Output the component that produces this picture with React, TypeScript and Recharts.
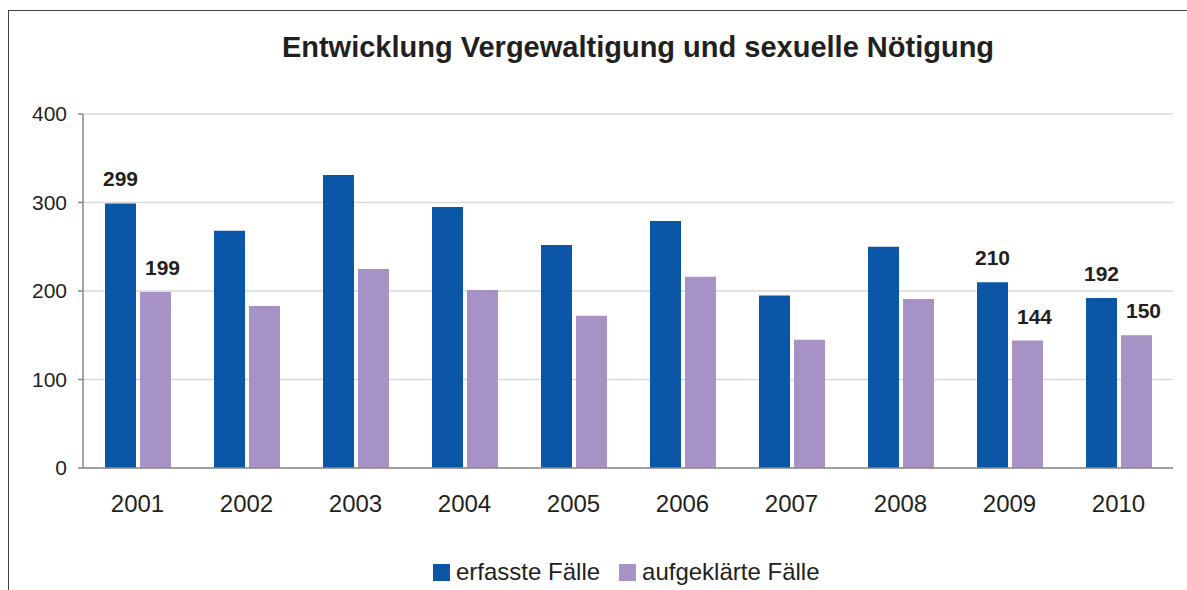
import * as React from "react"
import { BarChart, Bar, XAxis, YAxis, CartesianGrid, Legend, LabelList } from "recharts"

const years = ["2001", "2002", "2003", "2004", "2005", "2006", "2007", "2008", "2009", "2010"]
const erfasst = [299, 268, 331, 295, 252, 279, 195, 250, 210, 192]
const aufgeklaert = [199, 183, 225, 201, 172, 216, 145, 191, 144, 150]
const labelledYears = ["2001", "2009", "2010"]
const yTicks = [0, 100, 200, 300, 400]
const edgeTicks = [0, 1, 2, 3, 4, 5, 6, 7, 8, 9, 10]

const BLUE = "#0c56a8"
const PURPLE = "#a692c5"
const TEXT = "#231f20"
const FONT = "'Liberation Sans', Arial, sans-serif"

const data = years.map((year, i) => ({
  year,
  erfasst: erfasst[i],
  aufgeklaert: aufgeklaert[i],
  erfasstLabel: labelledYears.includes(year) ? erfasst[i] : null,
  aufgeklaertLabel: labelledYears.includes(year) ? aufgeklaert[i] : null,
}))

const makeLabel = (dx: number) => (props: any) => {
  if (props.value == null) return null
  const vb = props.viewBox ?? props
  return (
    <text
      x={vb.x + vb.width / 2 + dx}
      y={vb.y - 17}
      textAnchor="middle"
      fontFamily={FONT}
      fontWeight="bold"
      fontSize={21}
      fill={TEXT}
    >
      {props.value}
    </text>
  )
}

function LegendContent() {
  const items = [
    { label: "erfasste Fälle", color: BLUE },
    { label: "aufgeklärte Fälle", color: PURPLE },
  ]
  return (
    <div style={{ display: "flex", alignItems: "center", height: 24, paddingLeft: 433, fontFamily: FONT, fontSize: 24, color: TEXT }}>
      {items.map((it) => (
        <div key={it.label} style={{ display: "flex", alignItems: "center", marginRight: 19 }}>
          <span style={{ width: 17, height: 17, background: it.color, marginRight: 6, display: "inline-block" }} />
          <span style={{ lineHeight: "24px" }}>{it.label}</span>
        </div>
      ))}
    </div>
  )
}

export default function App() {
  return (
    <div style={{ position: "absolute", left: 0, top: 0, width: 1187, height: 590, background: "#fff", overflow: "hidden" }}>
      <div style={{ position: "absolute", left: 8, top: 10, width: 1300, height: 700, borderLeft: "1px solid #444", borderTop: "1px solid #444" }} />
      <div
        style={{
          position: "absolute",
          left: 0,
          width: 1276,
          top: 33,
          textAlign: "center",
          fontFamily: FONT,
          fontWeight: "bold",
          fontSize: 29,
          lineHeight: 1,
          color: TEXT,
          whiteSpace: "nowrap",
        }}
      >
        Entwicklung Vergewaltigung und sexuelle Nötigung
      </div>
      <BarChart
        width={1187}
        height={590}
        data={data}
        margin={{ top: 114, right: 14, left: 0, bottom: 6 }}
        barSize={31}
        barGap={4}
        style={{ position: "absolute", left: 0, top: 0 }}
      >
        <CartesianGrid vertical={false} stroke="#d9d9d9" strokeWidth={1.5} />
        <XAxis
          xAxisId="edge"
          type="number"
          domain={[0, 10]}
          ticks={edgeTicks}
          tick={false}
          tickSize={8}
          axisLine={false}
          tickLine={{ stroke: "#888", strokeWidth: 1.5 }}
          height={0}
          allowDataOverflow
        />
        <XAxis
          xAxisId="cat"
          dataKey="year"
          height={92}
          tickSize={0}
          tickMargin={27}
          tickLine={false}
          axisLine={{ stroke: "#888", strokeWidth: 1.5 }}
          tick={{ fill: TEXT, fontSize: 24, fontFamily: FONT }}
        />
        <YAxis
          width={83}
          domain={[0, 400]}
          ticks={yTicks}
          tickSize={5}
          tickMargin={11}
          axisLine={{ stroke: "#888", strokeWidth: 1.5 }}
          tickLine={{ stroke: "#888", strokeWidth: 1.5 }}
          tick={{ fill: TEXT, fontSize: 21, fontFamily: FONT }}
        />
        <Legend verticalAlign="bottom" content={<LegendContent />} />
        <Bar xAxisId="cat" dataKey="erfasst" name="erfasste Fälle" fill={BLUE} isAnimationActive={false}>
          <LabelList dataKey="erfasstLabel" content={makeLabel(0)} />
        </Bar>
        <Bar xAxisId="cat" dataKey="aufgeklaert" name="aufgeklärte Fälle" fill={PURPLE} isAnimationActive={false}>
          <LabelList dataKey="aufgeklaertLabel" content={makeLabel(7)} />
        </Bar>
      </BarChart>
    </div>
  )
}
